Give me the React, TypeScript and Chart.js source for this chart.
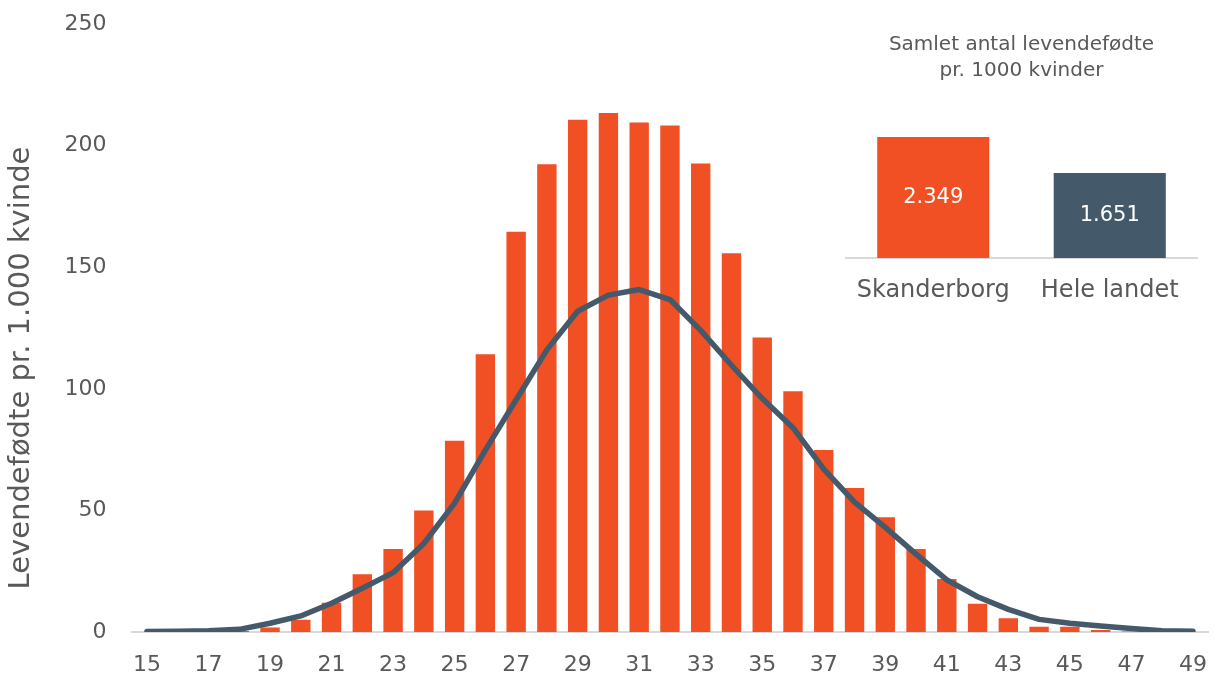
import React, { useEffect, useRef } from 'react';
import { Chart, registerables } from 'chart.js';

Chart.register(...registerables);

// ---- data ----
const ages = [
  15, 16, 17, 18, 19, 20, 21, 22, 23, 24, 25, 26, 27, 28, 29, 30, 31, 32,
  33, 34, 35, 36, 37, 38, 39, 40, 41, 42, 43, 44, 45, 46, 47, 48, 49,
];
const skanderborg = [
  0, 0, 0, 0.4, 1.8, 5, 12, 23.7, 34.1, 50, 78.6, 114.2, 164.6, 192.3, 210.6,
  213.4, 209.5, 208.3, 192.6, 155.7, 121.1, 99, 74.8, 59.2, 47.2, 34.1, 21.8,
  11.6, 5.7, 2.2, 2.2, 0.8, 0.2, 0, 0,
];
const heleLandet = [
  0.2, 0.3, 0.5, 1.1, 3.6, 6.6, 11.8, 18, 24.4, 36.4, 53, 74.8, 95.5, 116,
  131.9, 138.5, 140.8, 136.7, 124, 109.7, 96, 84, 67, 53.4, 43, 32, 21.4, 14.5,
  9.3, 5.2, 3.6, 2.5, 1.4, 0.5, 0.3,
];
const yTicks = [0, 50, 100, 150, 200, 250];
const yTitle = 'Levendefødte pr. 1.000 kvinde';

const insetTitle = ['Samlet antal levendefødte', 'pr. 1000 kvinder'];
const insetCategories = ['Skanderborg', 'Hele landet'];
const insetValues = [2349, 1651];

// ---- styles ----
const ORANGE = '#F05023';
const SLATE = '#44596A';
const TEXT = '#595959';
const AXIS = '#D9D9D9';
const FONT = "'DejaVu Sans', Verdana, sans-serif";

const fmt = (n: number) => String(n).replace(/\B(?=(\d{3})+(?!\d))/g, '.');

export default function App() {
  const mainRef = useRef<HTMLCanvasElement>(null);
  const insetRef = useRef<HTMLCanvasElement>(null);

  useEffect(() => {
    const yTitlePlugin = {
      id: 'yTitlePlugin',
      afterDraw(chart: any) {
        const ctx = chart.ctx;
        ctx.save();
        ctx.translate(21.5, 368);
        ctx.rotate(-Math.PI / 2);
        ctx.font = `29px ${FONT}`;
        ctx.fillStyle = TEXT;
        ctx.textAlign = 'center';
        ctx.textBaseline = 'middle';
        ctx.fillText(yTitle, 0, 0);
        ctx.restore();
      },
    };

    const main = new Chart(mainRef.current!, {
      type: 'bar',
      data: {
        labels: ages.map(String),
        datasets: [
          {
            type: 'line',
            data: heleLandet,
            borderColor: SLATE,
            backgroundColor: SLATE,
            borderWidth: 5.5,
            pointRadius: 0,
            tension: 0,
            borderCapStyle: 'round',
            borderJoinStyle: 'round',
            fill: false,
            order: 0,
          } as any,
          {
            type: 'bar',
            data: skanderborg,
            backgroundColor: ORANGE,
            barPercentage: 0.63,
            categoryPercentage: 1,
            order: 1,
          } as any,
        ],
      },
      options: {
        animation: false,
        responsive: false,
        layout: { padding: { top: 24, right: 7.7, left: 0, bottom: 0 } },
        plugins: { legend: { display: false }, tooltip: { enabled: false } },
        scales: {
          x: {
            grid: { display: false, drawTicks: true, tickLength: 17 },
            border: { display: true, color: AXIS, width: 2 },
            ticks: {
              autoSkip: false,
              maxRotation: 0,
              minRotation: 0,
              padding: 3,
              color: TEXT,
              font: { family: FONT, size: 22 },
              callback: function (this: any, v: any, i: number) {
                return i % 2 === 0 ? this.getLabelForValue(v) : '';
              },
            },
            afterFit: (s: any) => {
              s.height = 45;
            },
          },
          y: {
            min: 0,
            max: 250,
            grid: { display: false, drawTicks: true, tickLength: 22 },
            border: { display: false },
            ticks: {
              padding: 3,
              color: TEXT,
              font: { family: FONT, size: 22 },
            },
            afterBuildTicks: (s: any) => {
              s.ticks = yTicks.map((v) => ({ value: v }));
            },
            afterFit: (s: any) => {
              s.width = 131.6;
            },
          },
        },
      } as any,
      plugins: [yTitlePlugin],
    });

    const insetPlugin = {
      id: 'insetPlugin',
      afterDatasetsDraw(chart: any) {
        const ctx = chart.ctx;
        const meta = chart.getDatasetMeta(0);
        ctx.save();
        ctx.font = `21px ${FONT}`;
        ctx.fillStyle = '#FFFFFF';
        ctx.textAlign = 'center';
        ctx.textBaseline = 'middle';
        meta.data.forEach((bar: any, i: number) => {
          const { x, y, base } = bar.getProps(['x', 'y', 'base'], true);
          ctx.fillText(fmt(insetValues[i]), x, (y + base) / 2);
        });
        ctx.restore();
      },
      afterDraw(chart: any) {
        const ctx = chart.ctx;
        ctx.save();
        ctx.font = `20px ${FONT}`;
        ctx.fillStyle = TEXT;
        ctx.textAlign = 'center';
        ctx.textBaseline = 'middle';
        const cx = chart.width / 2;
        insetTitle.forEach((line, i) => {
          ctx.fillText(line, cx, 45 + i * 26);
        });
        ctx.restore();
      },
    };

    const inset = new Chart(insetRef.current!, {
      type: 'bar',
      data: {
        labels: insetCategories,
        datasets: [
          {
            data: insetValues,
            backgroundColor: [ORANGE, SLATE],
            barPercentage: 0.635,
            categoryPercentage: 1,
          },
        ],
      },
      options: {
        animation: false,
        responsive: false,
        layout: { padding: { top: 103.5, left: 0, right: 0, bottom: 0 } },
        plugins: { legend: { display: false }, tooltip: { enabled: false } },
        scales: {
          x: {
            grid: { display: false, drawTicks: true, tickLength: 15 },
            border: { display: true, color: AXIS, width: 2 },
            ticks: {
              padding: 3.6,
              maxRotation: 0,
              color: TEXT,
              font: { family: FONT, size: 24 },
            },
            afterFit: (s: any) => {
              s.height = 72;
            },
          },
          y: { display: false, min: 0, max: 3000 },
        },
      } as any,
      plugins: [insetPlugin],
    });

    return () => {
      main.destroy();
      inset.destroy();
    };
  }, []);

  return (
    <div
      style={{
        position: 'absolute',
        left: 0,
        top: 0,
        width: 1216,
        height: 677,
        background: '#FFFFFF',
      }}
    >
      <canvas
        ref={mainRef}
        width={1216}
        height={677}
        style={{ position: 'absolute', left: 0, top: 0, width: 1216, height: 677 }}
      />
      <canvas
        ref={insetRef}
        width={353}
        height={330}
        style={{ position: 'absolute', left: 845, top: 0, width: 353, height: 330 }}
      />
    </div>
  );
}
